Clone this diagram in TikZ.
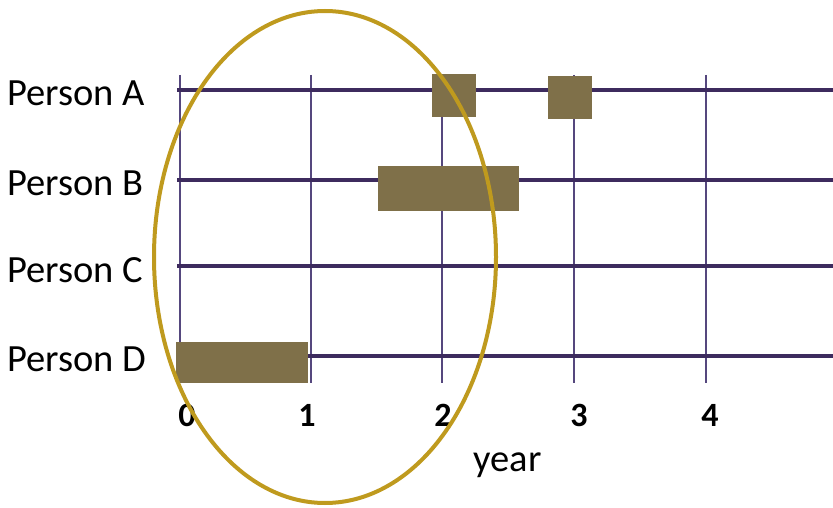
\documentclass[tikz,border=0pt]{standalone}
\usepackage{fontspec}
\setmainfont{Carlito}
\definecolor{rowline}{HTML}{3D2B5E}
\definecolor{gridline}{HTML}{55477E}
\definecolor{barfill}{HTML}{7F7049}
\definecolor{ringcol}{HTML}{BF9A1E}
\begin{document}
\begin{tikzpicture}[x=1pt,y=-1pt,
  rowlbl/.style={anchor=base west,inner sep=0pt,font=\fontsize{38.5}{42}\selectfont},
  ticklbl/.style={anchor=base,inner sep=0pt,font=\fontsize{34}{38}\selectfont\bfseries},
  grid/.style={draw=gridline,line width=2pt},
  row/.style={draw=rowline,line width=4.5pt},
  bar/.style={fill=barfill,inner sep=0pt,outer sep=0pt,rectangle},
  ring/.style={draw=ringcol,line width=4pt}]
\useasboundingbox (0,0) rectangle (833,508);
% vertical grid lines
\foreach \i/\x in {0/179.5,1/310.5,2/442,3/573.5,4/705.5}{
  \coordinate (gt\i) at (\x,75);
  \coordinate (gb\i) at (\x,383);
  \draw[grid] (gt\i) -- (gb\i);
}
% row lines
\foreach \r/\y in {A/90,B/180,C/266,D/356}{
  \coordinate (rs\r) at (177,\y);
  \coordinate (re\r) at (833,\y);
  \draw[row] (rs\r) -- (re\r);
}
% bars
\node[bar,minimum width=44pt,minimum height=43pt] (a1) at (454,95.5) {};
\node[bar,minimum width=44pt,minimum height=43pt] (a2) at (570,97.5) {};
\node[bar,minimum width=141pt,minimum height=45pt] (b1) at (448.5,188.5) {};
\node[bar,minimum width=132pt,minimum height=41pt] (d1) at (242,362.5) {};
% row labels
\node[rowlbl] (pA) at (7,106) {Person A};
\node[rowlbl] (pB) at (7,195) {Person B};
\node[rowlbl] (pC) at (7,282.5) {Person C};
\node[rowlbl] (pD) at (7,371.5) {Person D};
% tick labels
\node[ticklbl] (t0) at (187,426.5) {0};
\node[ticklbl] (t1) at (307,426.5) {1};
\node[ticklbl] (t2) at (443,426.5) {2};
\node[ticklbl] (t3) at (579,426.5) {3};
\node[ticklbl] (t4) at (710,426.5) {4};
\node[anchor=base,inner sep=0pt,font=\fontsize{38.5}{42}\selectfont] (yr) at (507.5,471.5) {year};
% ring
\draw[ring] (325,257) ellipse [x radius=171pt, y radius=246pt];
\end{tikzpicture}
\end{document}
